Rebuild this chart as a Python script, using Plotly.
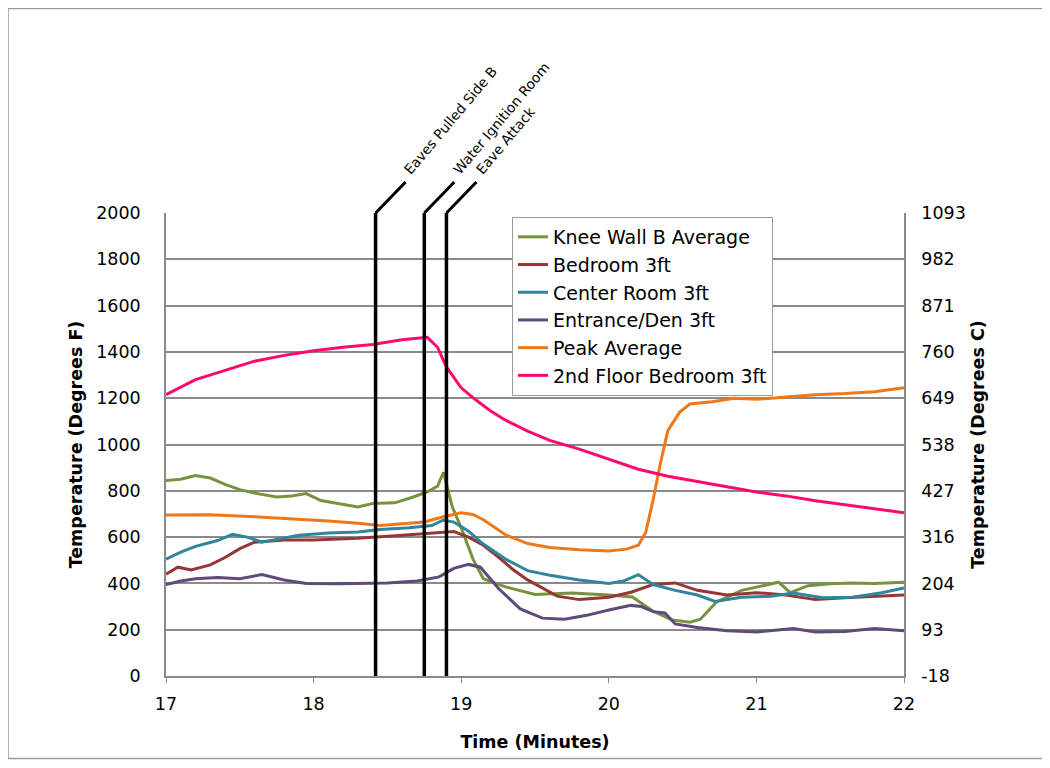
import plotly.graph_objects as go

# ---------------- data ----------------
knee_t = [17.0, 17.1, 17.2, 17.3, 17.4, 17.5, 17.6, 17.75, 17.85, 17.95, 18.05, 18.2, 18.3, 18.4,
          18.55, 18.67, 18.77, 18.84, 18.88, 18.94, 19.0, 19.08, 19.15, 19.3, 19.5, 19.75, 20.0,
          20.16, 20.3, 20.43, 20.55, 20.62, 20.73, 20.9, 21.05, 21.15, 21.23, 21.35, 21.5, 21.65,
          21.8, 22.0]
knee_v = [845, 850, 866, 855, 828, 805, 790, 773, 778, 788, 758, 740, 730, 745,
          748, 772, 795, 820, 880, 730, 640, 505, 420, 385, 352, 358, 350,
          341, 280, 242, 232, 245, 320, 370, 390, 405, 360, 390, 398, 402,
          400, 405]

bed_t = [17.0, 17.08, 17.17, 17.3, 17.4, 17.5, 17.6, 17.8, 18.0, 18.3, 18.6, 18.8, 18.95, 19.05,
         19.15, 19.25, 19.35, 19.45, 19.55, 19.65, 19.8, 20.0, 20.15, 20.3, 20.45, 20.6, 20.8,
         21.0, 21.2, 21.4, 21.6, 21.8, 22.0]
bed_v = [440, 470, 458, 480, 512, 550, 578, 587, 588, 595, 608, 618, 624, 600,
         565, 515, 460, 415, 380, 345, 330, 340, 362, 395, 402, 370, 350,
         360, 350, 330, 338, 345, 350]

center_t = [17.0, 17.1, 17.2, 17.35, 17.45, 17.55, 17.65, 17.75, 17.9, 18.1, 18.3, 18.45, 18.65,
            18.8, 18.88, 18.95, 19.05, 19.15, 19.3, 19.45, 19.6, 19.8, 20.0, 20.1, 20.2, 20.3,
            20.45, 20.6, 20.72, 20.9, 21.1, 21.25, 21.45, 21.65, 21.85, 22.0]
center_v = [505, 535, 560, 585, 612, 600, 578, 590, 608, 618, 622, 633, 640,
            650, 674, 665, 625, 570, 505, 455, 435, 415, 400, 410, 438, 395,
            370, 350, 322, 340, 345, 358, 338, 340, 360, 380]

den_t = [17.0, 17.1, 17.2, 17.35, 17.5, 17.65, 17.8, 17.95, 18.15, 18.3, 18.5, 18.7, 18.85, 18.95,
         19.05, 19.13, 19.25, 19.4, 19.55, 19.7, 19.85, 20.0, 20.15, 20.22, 20.3, 20.38, 20.45,
         20.6, 20.8, 21.0, 21.25, 21.4, 21.6, 21.8, 22.0]
den_v = [395, 410, 420, 425, 420, 438, 415, 400, 398, 400, 402, 410, 428, 465,
         482, 470, 380, 290, 250, 245, 262, 285, 305, 300, 278, 272, 225,
         210, 195, 190, 205, 190, 192, 205, 195]

peak_t = [17.0, 17.3, 17.6, 17.9, 18.1, 18.3, 18.45, 18.6, 18.75, 18.88, 19.0, 19.08, 19.15, 19.3,
          19.45, 19.6, 19.8, 20.0, 20.12, 20.2, 20.25, 20.3, 20.35, 20.4, 20.48, 20.55, 20.7,
          20.85, 21.0, 21.2, 21.4, 21.6, 21.8, 22.0]
peak_v = [695, 697, 688, 678, 670, 660, 650, 658, 665, 688, 705, 698, 675, 610,
          572, 555, 545, 540, 548, 565, 620, 760, 920, 1060, 1140, 1175, 1185,
          1200, 1195, 1205, 1215, 1220, 1228, 1245]

floor2_t = [17.0, 17.2, 17.4, 17.6, 17.8, 18.0, 18.2, 18.4, 18.6, 18.77, 18.84, 18.9, 19.0, 19.1,
            19.2, 19.3, 19.45, 19.6, 19.8, 20.0, 20.2, 20.4, 20.6, 20.8, 21.0, 21.2, 21.4, 21.6,
            21.8, 22.0]
floor2_v = [1215, 1280, 1320, 1360, 1385, 1405, 1420, 1432, 1452, 1463, 1420, 1335, 1245, 1192,
            1145, 1105, 1058, 1018, 980, 935, 893, 863, 840, 815, 795, 778, 757, 740,
            722, 705]

series_names = ["Knee Wall B Average", "Bedroom 3ft", "Center Room 3ft",
                "Entrance/Den 3ft", "Peak Average", "2nd Floor Bedroom 3ft"]
series_t = [knee_t, bed_t, center_t, den_t, peak_t, floor2_t]
series_v = [knee_v, bed_v, center_v, den_v, peak_v, floor2_v]
series_colors = ["#77933C", "#953735", "#31859C", "#604A7B", "#F07818", "#FF0A6C"]

event_times = [18.42, 18.75, 18.90]
event_labels = ["Eaves Pulled Side B", "Water Ignition Room", "Eave Attack"]

f_ticks = [0, 200, 400, 600, 800, 1000, 1200, 1400, 1600, 1800, 2000]
x_ticks = [17, 18, 19, 20, 21, 22]
X_RANGE = [17, 22]
Y_RANGE = [0, 2000]

def f_to_c(f):
    return (f - 32) * 5.0 / 9.0

FONT = "DejaVu Sans"
GRID = "#8a8a8a"
TICK_SIZE = 17.5
TITLE_SIZE = 17.5

fig = go.Figure()
for name, t, v, c in zip(series_names, series_t, series_v, series_colors):
    fig.add_trace(go.Scatter(x=t, y=v, name=name, mode="lines",
                             line=dict(color=c, width=3)))

# helper trace so the Celsius axis is drawn
fig.add_trace(go.Scatter(x=[X_RANGE[0]], y=[f_to_c(Y_RANGE[0])], yaxis="y2",
                         mode="markers", marker=dict(opacity=0), showlegend=False,
                         hoverinfo="skip"))

# figure geometry (px); the page adds an 8px body margin
L, T = 158, 205
W, H = 1050, 768
pw, ph = 738, 463
R, B = W - L - pw, H - T - ph

def px_x(px):
    return (px - L) / pw

def px_y(py):
    return (T + ph - py) / ph

shapes = []
annotations = []
for t, lab in zip(event_times, event_labels):
    shapes.append(dict(type="line", xref="x", yref="y", x0=t, x1=t, y0=Y_RANGE[0], y1=Y_RANGE[1],
                       line=dict(color="black", width=3.5)))
    xp = (t - X_RANGE[0]) / (X_RANGE[1] - X_RANGE[0])
    x1p = xp + 30 / pw
    y1p = 1 + 31 / ph
    shapes.append(dict(type="line", xref="paper", yref="paper", x0=xp, x1=x1p, y0=1, y1=y1p,
                       line=dict(color="black", width=3)))
    annotations.append(dict(xref="paper", yref="paper", x=x1p - 7 / pw, y=y1p + 2 / ph,
                            text=lab, showarrow=False, textangle=-50,
                            xanchor="left", yanchor="bottom",
                            font=dict(family=FONT, size=13.8, color="black")))

# outer chart border
shapes.append(dict(type="rect", xref="paper", yref="paper",
                   x0=px_x(0), x1=px_x(1036), y0=px_y(750.5), y1=px_y(0.5),
                   line=dict(color="#9a9a9a", width=1.5), layer="below"))

fig.update_layout(
    width=W, height=H,
    margin=dict(l=L, r=R, t=T, b=B, autoexpand=False),
    paper_bgcolor="white", plot_bgcolor="white",
    font=dict(family=FONT, size=16, color="black"),
    showlegend=True,
    legend=dict(x=px_x(504), y=px_y(209), xanchor="left", yanchor="top",
                bgcolor="white", bordercolor="#9a9a9a", borderwidth=1,
                font=dict(family=FONT, size=19, color="black"),
                tracegroupgap=0),
    xaxis=dict(range=X_RANGE, tickvals=x_ticks, ticks="outside", ticklen=5,
               tickcolor=GRID, showgrid=False, showline=True, linecolor=GRID, linewidth=1.5,
               mirror=False, zeroline=False, ticklabelstandoff=6,
               tickfont=dict(family=FONT, size=TICK_SIZE),
               title=dict(text="<b>Time (Minutes)</b>", font=dict(family=FONT, size=TITLE_SIZE),
                          standoff=23)),
    yaxis=dict(range=Y_RANGE, tickvals=f_ticks, ticks="", showgrid=True, gridcolor=GRID,
               gridwidth=1.5, showline=True, linecolor=GRID, linewidth=1.5, zeroline=False,
               ticklabelstandoff=20,
               tickfont=dict(family=FONT, size=TICK_SIZE),
               title=dict(text="<b>Temperature (Degrees F)</b>", font=dict(family=FONT, size=TITLE_SIZE),
                          standoff=9)),
    yaxis2=dict(range=[f_to_c(Y_RANGE[0]), f_to_c(Y_RANGE[1])], overlaying="y", side="right",
                tickvals=[f_to_c(f) for f in f_ticks],
                ticktext=[str(int(round(f_to_c(f)))) for f in f_ticks],
                showgrid=False, showline=True, linecolor=GRID, linewidth=1.5, zeroline=False,
                ticks="", ticklabelstandoff=12, tickfont=dict(family=FONT, size=TICK_SIZE),
                title=dict(text="<b>Temperature (Degrees C)</b>", font=dict(family=FONT, size=TITLE_SIZE),
                           standoff=7)),
    shapes=shapes,
    annotations=annotations,
)

fig.write_html("out.html")
